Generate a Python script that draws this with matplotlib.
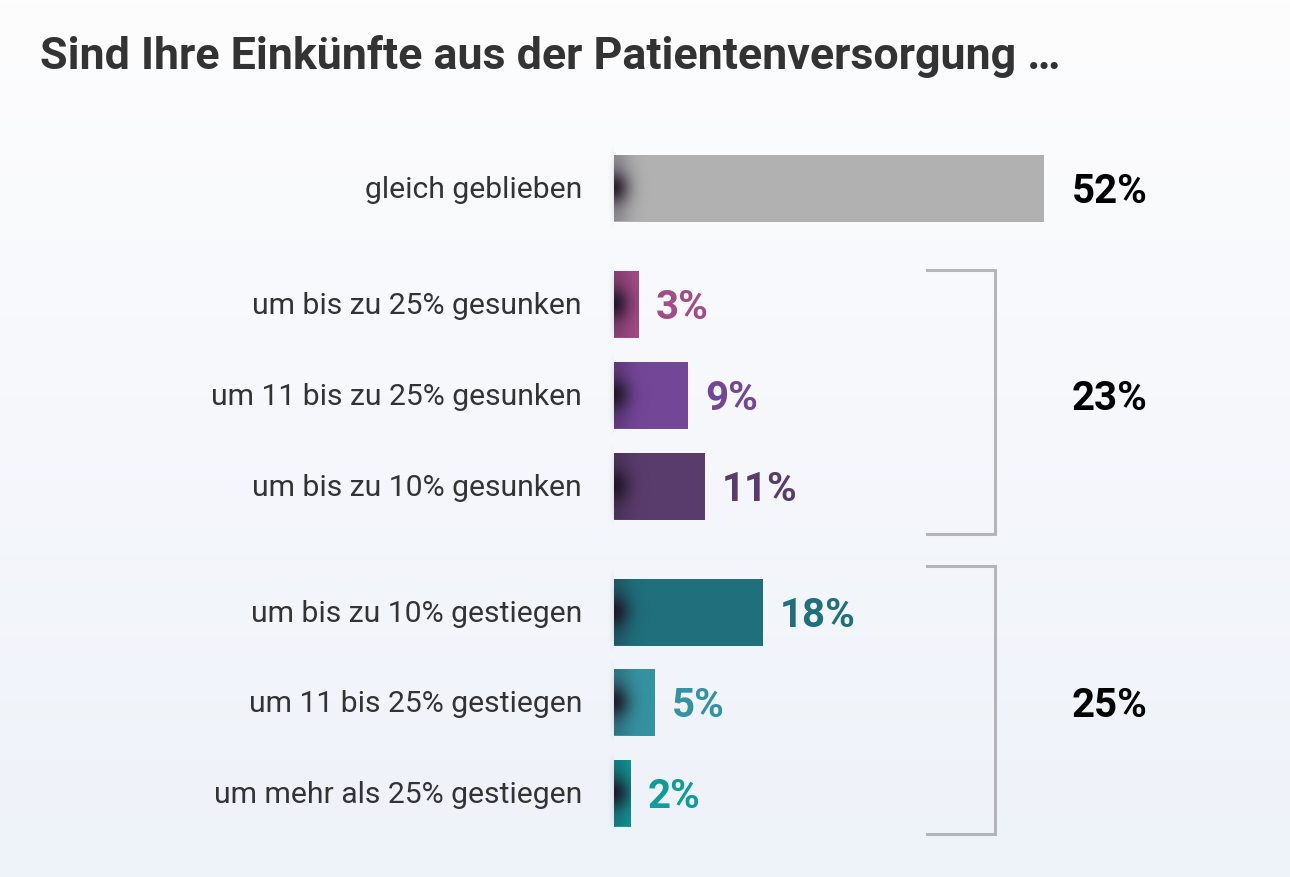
import numpy as np
import matplotlib.pyplot as plt
from matplotlib.colors import to_rgb

plt.rcParams['font.family'] = ['Roboto', 'DejaVu Sans']

title = "Sind Ihre Einkünfte aus der Patientenversorgung …"
labels = ["gleich geblieben", "um bis zu 25% gesunken", "um 11 bis zu 25% gesunken",
          "um bis zu 10% gesunken", "um bis zu 10% gestiegen", "um 11 bis 25% gestiegen",
          "um mehr als 25% gestiegen"]
values = [52, 3, 9, 11, 18, 5, 2]
colors = ["#b1b1b1", "#a34c88", "#744698", "#5a3c6c", "#1f6f7c", "#3593a1", "#109b9c"]
groups = [[1, 2, 3], [4, 5, 6]]
group_totals = [23, 25]

# layout (pixels)
px = 8.27          # pixels per percent
x0 = 614           # bar origin
ys = [189, 305, 396, 487, 613, 703, 794]
h = 67
brackets = [(271, 535), (567, 835)]

fig = plt.figure(figsize=(12.9, 8.78), dpi=100)
ax = fig.add_axes([0, 0, 1, 1])
xl = (-x0 / px, (1290 - x0) / px)

# background gradient
top = np.array([253, 253, 254]) / 255
bot = np.array([238, 242, 249]) / 255
t = np.linspace(0, 1, 256)[:, None, None]
bg = top * (1 - t) + bot * t
ax.imshow(bg, extent=[xl[0], xl[1], 878, 0], aspect='auto', zorder=0)

bars = ax.barh(ys, values, height=h, color=colors, zorder=2)

# dark shading at the left edge of each bar
sx = np.linspace(0, 1, 80)[None, :]
sy = np.linspace(-1, 1, 67)[:, None]
alpha = 0.9 * np.exp(-(sx / 0.42) ** 2) * (0.25 + 0.75 * np.exp(-(sy / 0.5) ** 2))
shade = np.zeros((67, 80, 4))
shade[..., :3] = to_rgb("#1c1222")
shade[..., 3] = alpha
for b, y in zip(bars, ys):
    im = ax.imshow(shade, extent=[0, 38 / px, y + h / 2, y - h / 2], aspect='auto', zorder=3)
    im.set_clip_path(b)
    # faint soft shadow left of the bar origin
    lsx = np.linspace(0, 1, 30)[None, :]
    lsy = np.linspace(-1, 1, 90)[:, None]
    la = 0.18 * lsx ** 3 * np.exp(-(lsy / 0.8) ** 6)
    ls = np.zeros((90, 30, 4))
    ls[..., :3] = 0.55
    ls[..., 3] = la
    ax.imshow(ls, extent=[-10 / px, 0, y + h / 2 + 10, y - h / 2 - 10], aspect='auto', zorder=1)

for i, (lab, v, c, y) in enumerate(zip(labels, values, colors, ys)):
    ax.text(-32 / px, y + 9, lab, ha='right', va='baseline', fontsize=21.7, color='#333333')
    if i == 0:
        ax.text((1072 - x0) / px, y + 14, f"{v}%", ha='left', va='baseline',
                fontsize=29, fontweight='bold', color='black')
    else:
        ax.text(v + 17 / px, y + 14, f"{v}%", ha='left', va='baseline',
                fontsize=29, fontweight='bold', color=c)

bx1, bx2 = (927 - x0) / px, (995 - x0) / px
for g, tot, (bt, bb) in zip(groups, group_totals, brackets):
    ax.plot([bx1, bx2, bx2, bx1], [bt, bt, bb, bb], color='#b5b5b9', lw=2.2,
            solid_joinstyle='miter', zorder=2)
    ym = np.mean([ys[k] for k in g])
    ax.text((1072 - x0) / px, ym + 14, f"{tot}%", ha='left', va='baseline',
            fontsize=29, fontweight='bold', color='black')

fig.text(40 / 1290, 1 - 69 / 878, title, ha='left', va='baseline', fontsize=32.2,
         fontweight='bold', color='#333333')

ax.set_xlim(*xl)
ax.set_ylim(878, 0)
ax.axis('off')
fig.savefig("out.png", dpi=100)
